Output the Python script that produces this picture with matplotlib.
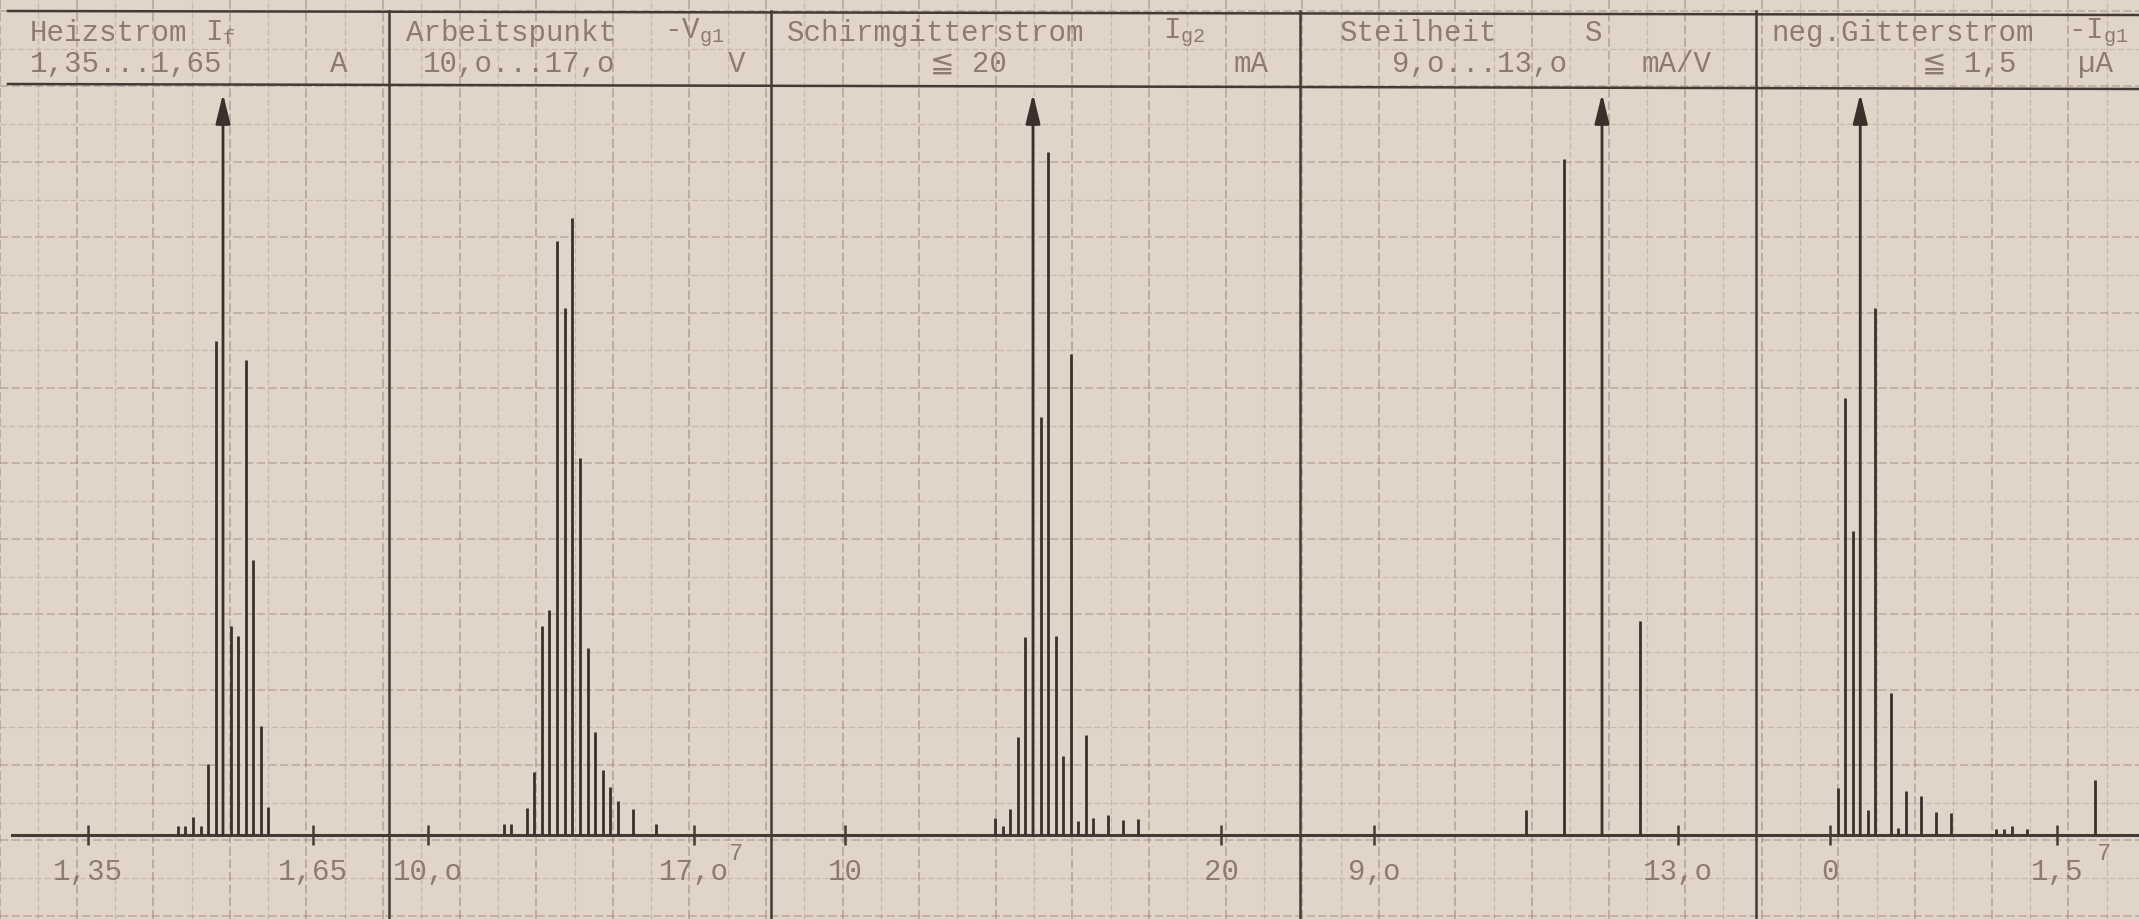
import numpy as np
import matplotlib
matplotlib.use("Agg")
import matplotlib.pyplot as plt

# ---------------- data (counts) ----------------
# Panel 1: Heizstrom I_f  [A]
heiz_x = [1.47, 1.48, 1.49, 1.50, 1.51, 1.52, 1.54, 1.55, 1.56, 1.57, 1.58, 1.59]
heiz_n = [1.0, 1.0, 1.9, 1.0, 7.5, 52, 22, 21, 50, 29, 11.5, 3]
heiz_over = [1.53]
heiz_ticks = [1.35, 1.65]
heiz_ticklabels = ["1,35", "1,65"]

# Panel 2: Arbeitspunkt -V_g1  [V]
arb_x = [12.0, 12.2, 12.6, 12.8, 13.0, 13.2, 13.4, 13.6, 13.8, 14.0, 14.2,
         14.4, 14.6, 14.8, 15.0, 15.4, 16.0]
arb_n = [1.2, 1.2, 2.8, 6.6, 22, 23.7, 62.5, 55.5, 65, 39.7, 19.7,
         10.8, 6.8, 5.1, 3.6, 2.7, 1.2]
arb_over = []
arb_ticks = [10, 17]
arb_ticklabels = ["10,o", "17,o"]

# Panel 3: Schirmgitterstrom I_g2  [mA]
schirm_x = [14.0, 14.2, 14.4, 14.6, 14.8, 15.2, 15.4, 15.6, 15.8, 16.0, 16.2,
            16.4, 16.6, 17.0, 17.4, 17.8]
schirm_n = [1.8, 1.0, 2.7, 10.3, 20.8, 44, 71.9, 21, 8.3, 50.6, 1.5,
            10.5, 1.8, 2.1, 1.6, 1.7]
schirm_over = [15.0]
schirm_ticks = [10, 20]
schirm_ticklabels = ["10", "20"]

# Panel 4: Steilheit S  [mA/V]
steil_x = [11.0, 11.5, 12.5]
steil_n = [2.6, 71.2, 22.5]
steil_over = [12.0]
steil_ticks = [9, 13]
steil_ticklabels = ["9,o", "13,o"]

# Panel 5: neg. Gitterstrom -I_g1  [uA]
gitter_x = [0.05, 0.10, 0.15, 0.25, 0.30, 0.40, 0.45, 0.50, 0.60, 0.70, 0.80,
            1.10, 1.15, 1.20, 1.30, 1.75]
gitter_n = [4.9, 46, 32, 2.6, 55.5, 15, 0.7, 4.6, 4.1, 2.4, 2.3,
            0.6, 0.6, 0.9, 0.6, 5.8]
gitter_over = [0.20]
gitter_ticks = [0, 1.5]
gitter_ticklabels = ["0", "1,5"]

# ---------------- layout / style ----------------
W, H = 2139, 920
TOP_Y, HDR_Y, BASE_Y = 12, 87, 836
PX_PER_N = 9.5
PAPER = "#e1d5c9"
GRID = "#9a8576"
INK = "#453a35"
BAR = "#3a302c"
TXT = "#8e7b70"
FONT = "Liberation Mono"
FS = 21

plt.rcParams["font.family"] = [FONT, "DejaVu Sans"]
plt.rcParams["mathtext.fontset"] = "custom"
plt.rcParams["mathtext.rm"] = FONT

fig = plt.figure(figsize=(W / 100, H / 100), dpi=100, facecolor=PAPER)

# background: graph paper, header lines, dividers, baseline
bg = fig.add_axes([0, 0, 1, 1])
bg.set_xlim(0, W)
bg.set_ylim(H, 0)
bg.axis("off")
bg.set_facecolor(PAPER)
for k, gx in enumerate(np.arange(0, W, 38.3)):
    bg.axvline(gx, color=GRID, lw=1.3 if k % 2 == 0 else 0.9,
               alpha=0.55 if k % 2 == 0 else 0.35, ls=(0, (5, 2)), zorder=0)
for k, gy in enumerate(np.arange(TOP_Y, H, 37.7)):
    bg.axhline(gy, color=GRID, lw=1.2 if k % 2 == 0 else 0.9,
               alpha=0.5 if k % 2 == 0 else 0.35, ls=(0, (5, 2)), zorder=0)

dividers = [389, 771, 1300, 1756]
for dx in dividers:
    bg.plot([dx, dx], [TOP_Y, H], color=INK, lw=1.8, zorder=2)
bg.plot([8, W], [TOP_Y, TOP_Y + 4], color=INK, lw=1.8, zorder=2)
bg.plot([8, W], [HDR_Y - 2, HDR_Y + 3], color=INK, lw=1.8, zorder=2)
bg.plot([12, W], [BASE_Y, BASE_Y], color=INK, lw=2.2, zorder=2)

# header texts
R1, R2 = 33, 64
hdr = [
    (30, R1, "Heizstrom"), (205, R1, r"I$\mathregular{_f}$"),
    (30, R2, "1,35...1,65"), (330, R2, "A"),
    (406, R1, "Arbeitspunkt"), (664, R1, r"-V$\mathregular{_{g1}}$"),
    (423, R2, "10,o...17,o"), (728, R2, "V"),
    (787, R1, "Schirmgitterstrom"), (1163, R1, r"I$\mathregular{_{g2}}$"),
    (930, R2, "≦ 20"), (1234, R2, "mA"),
    (1340, R1, "Steilheit"), (1585, R1, "S"),
    (1392, R2, "9,o...13,o"), (1642, R2, "mA/V"),
    (1771, R1, "neg.Gitterstrom"), (2068, R1, r"-I$\mathregular{_{g1}}$"),
    (1922, R2, "≦ 1,5"), (2078, R2, "µA"),
]
for tx, ty, s in hdr:
    bg.text(tx, ty, s, fontsize=FS, color=TXT, va="center", ha="left", zorder=3)
for tx in (728, 2096):
    bg.text(tx, BASE_Y + 18, "7", fontsize=FS - 4, color=TXT, va="center", ha="left", zorder=3)

panels = [
    ((0, 389), (1.35 - 88 / 750, 1.35 + 301 / 750), heiz_x, heiz_n, heiz_over, heiz_ticks, heiz_ticklabels),
    ((389, 771), (10 - 38.5 / 38.1, 10 + 343.5 / 38.1), arb_x, arb_n, arb_over, arb_ticks, arb_ticklabels),
    ((771, 1300), (10 - 74 / 37.6, 10 + 455 / 37.6), schirm_x, schirm_n, schirm_over, schirm_ticks, schirm_ticklabels),
    ((1300, 1756), (9 - 74 / 76, 9 + 382 / 76), steil_x, steil_n, steil_over, steil_ticks, steil_ticklabels),
    ((1756, 2139), (-74 / 151.3, 309 / 151.3), gitter_x, gitter_n, gitter_over, gitter_ticks, gitter_ticklabels),
]

ytop = (BASE_Y - HDR_Y) / PX_PER_N
for (x0, x1), xlim, xs, ns, over, ticks, tlabels in panels:
    ax = fig.add_axes([x0 / W, (H - BASE_Y) / H, (x1 - x0) / W, (BASE_Y - HDR_Y) / H])
    ax.set_facecolor("none")
    ax.set_xlim(*xlim)
    ax.set_ylim(0, ytop)
    for sp in ax.spines.values():
        sp.set_visible(False)
    ax.vlines(xs, 0, ns, color=BAR, lw=2.0, zorder=4)
    for xo in over:
        ax.annotate("", xy=(xo, ytop - 0.8), xytext=(xo, 0),
                    arrowprops=dict(arrowstyle="-|>,head_length=0.9,head_width=0.22",
                                    color=BAR, lw=2.0, mutation_scale=20,
                                    shrinkA=0, shrinkB=0), zorder=4)
    ax.set_yticks([])
    ax.set_xticks(ticks)
    ax.set_xticklabels(tlabels)
    ax.tick_params(axis="x", direction="inout", length=14, width=1.8, color=INK,
                   labelsize=FS, labelcolor=TXT, pad=9)

fig.savefig("out.png", dpi=100, facecolor=PAPER)
